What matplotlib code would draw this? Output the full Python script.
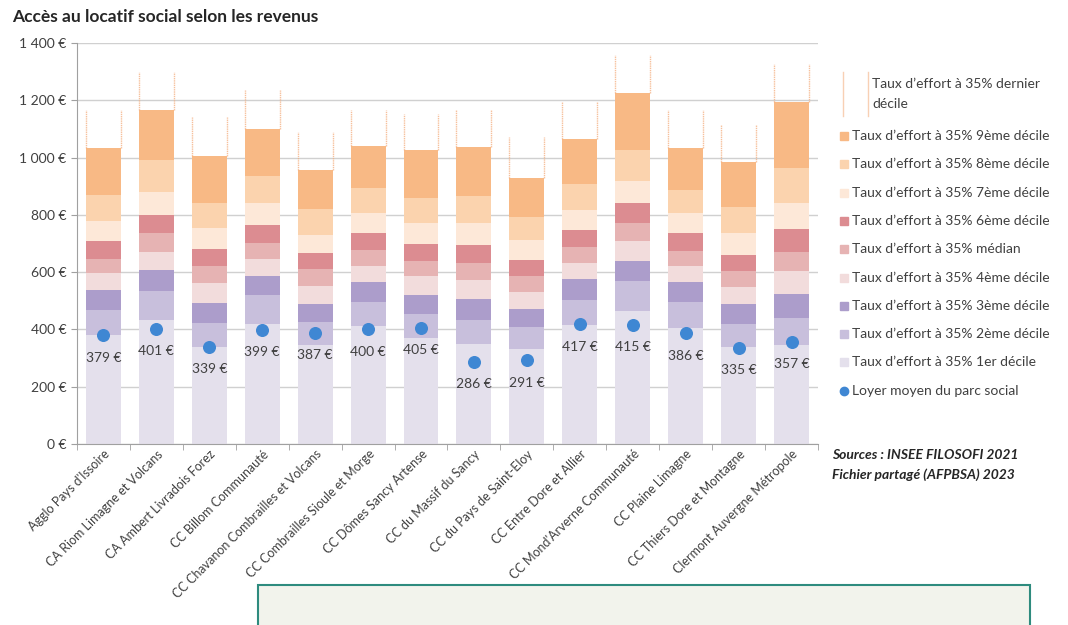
## Accès au locatif social selon les revenus - stacked deciles + loyer moyen

import numpy as np
import matplotlib
matplotlib.use("Agg")
import matplotlib.pyplot as plt
from matplotlib.patches import Rectangle
from matplotlib.lines import Line2D
from matplotlib.ticker import FuncFormatter, MultipleLocator

plt.rcParams['font.family'] = ['Lato', 'DejaVu Sans']

territoires = ["Agglo Pays d'Issoire", "CA Riom Limagne et Volcans", "CA Ambert Livradois Forez",
               "CC Billom Communauté", "CC Chavanon Combrailles et Volcans",
               "CC Combrailles Sioule et Morge", "CC Dômes Sancy Artense", "CC du Massif du Sancy",
               "CC du Pays de Saint-Eloy", "CC Entre Dore et Allier", "CC Mond'Arverne Communauté",
               "CC Plaine Limagne", "CC Thiers Dore et Montagne", "Clermont Auvergne Métropole"]

# loyer accessible (35% du revenu) at each decile
d1 = [380, 432, 339, 418, 345, 411, 368, 347, 330, 414, 463, 403, 339, 345]
d2 = [467, 534, 423, 519, 426, 496, 453, 432, 409, 504, 567, 495, 420, 438]
d3 = [537, 607, 492, 586, 490, 564, 519, 505, 470, 574, 639, 564, 490, 525]
d4 = [595, 670, 562, 645, 551, 622, 586, 572, 529, 630, 708, 621, 548, 603]
med = [647, 735, 620, 702, 609, 676, 639, 630, 586, 686, 772, 673, 603, 670]
d6 = [708, 799, 680, 766, 665, 737, 697, 694, 641, 746, 840, 735, 661, 752]
d7 = [778, 880, 754, 842, 729, 805, 770, 770, 711, 818, 918, 807, 737, 843]
d8 = [868, 993, 843, 936, 819, 895, 859, 865, 793, 909, 1026, 886, 828, 964]
d9 = [1035, 1168, 1005, 1101, 956, 1041, 1026, 1037, 930, 1064, 1227, 1035, 985, 1194]
dernier = [1168, 1299, 1142, 1235, 1090, 1165, 1154, 1168, 1072, 1194, 1357, 1165, 1113, 1328]
loyer = [379, 401, 339, 399, 387, 400, 405, 286, 291, 417, 415, 386, 335, 357]

noms = ["1er décile", "2ème décile", "3ème décile", "4ème décile", "médian",
        "6ème décile", "7ème décile", "8ème décile", "9ème décile"]
couleurs = ["#E4E0EC", "#C8BFDC", "#AC9DCB", "#F2DCDC", "#E6B3B3",
            "#DC8C91", "#FDE8D8", "#FBD3AE", "#F8B985"]
orange = "#F4B183"
bleu = "#3F87D3"

fig = plt.figure(figsize=(10.68, 6.25), dpi=100)
ax = fig.add_axes([0.072, 0.290, 0.694, 0.641])

x = np.arange(len(territoires))
w = 0.66
seuils = [d1, d2, d3, d4, med, d6, d7, d8, d9]
bas = np.zeros(len(x))
for vals, col in zip(seuils, couleurs):
    vals = np.array(vals, dtype=float)
    ax.bar(x, vals - bas, w, bottom=bas, color=col, zorder=2)
    bas = vals

# dernier décile : two thin dotted verticals from the 9th decile up
for xi, lo, hi in zip(x, d9, dernier):
    for dx in (-w / 2, w / 2):
        ax.plot([xi + dx, xi + dx], [lo, hi], color=orange, lw=1,
                linestyle=(0, (1, 0.6)), alpha=0.8, zorder=2)

ax.scatter(x, loyer, s=70, color=bleu, zorder=4)
for xi, v in zip(x, loyer):
    ax.annotate("%d €" % v, (xi, v), xytext=(0, -16), textcoords="offset points",
                ha="center", va="center", fontsize=10, color="#404040", zorder=5)

ax.set_xlim(-0.5, len(x) - 0.5)
ax.set_ylim(0, 1400)
ax.yaxis.set_major_locator(MultipleLocator(200))
ax.yaxis.set_major_formatter(FuncFormatter(lambda v, p: ("%d €" % v) if v < 1000
                                           else "%d %03d €" % (v // 1000, v % 1000)))
ax.grid(axis="y", color="#D0D0D0", lw=1, zorder=0)
ax.tick_params(axis="y", length=4, color="#A0A0A0", labelsize=10, labelcolor="#404040")

ax.set_xticks(x)
ax.set_xticklabels(territoires, rotation=45, ha="right", rotation_mode="anchor",
                   fontsize=9, color="#404040")
ax.set_xticks(np.arange(-0.5, len(x)), minor=True)
ax.tick_params(axis="x", which="major", length=0, pad=3)
ax.tick_params(axis="x", which="minor", length=4, color="#A0A0A0")

for s in ["top", "right"]:
    ax.spines[s].set_visible(False)
for s in ["left", "bottom"]:
    ax.spines[s].set_color("#A0A0A0")

fig.text(0.011, 0.972, "Accès au locatif social selon les revenus", fontsize=12.5,
         fontweight="bold", color="#262626", va="center")

# legend, drawn by hand on the right
W, H = 1068.0, 625.0
fig.add_artist(Line2D([843 / W, 843 / W], [1 - 72 / H, 1 - 116 / H], color=orange, lw=1,
                      alpha=0.6))
fig.add_artist(Line2D([868 / W, 868 / W], [1 - 72 / H, 1 - 116 / H], color=orange, lw=1,
                      alpha=0.6))
fig.text(872 / W, 1 - 84 / H, "Taux d\u2019effort à 35% dernier", fontsize=10,
         color="#404040", va="center")
fig.text(872 / W, 1 - 104 / H, "décile", fontsize=10, color="#404040", va="center")

ypos = 136
for nom, col in list(zip(noms, couleurs))[::-1]:
    fig.add_artist(Rectangle((840 / W, 1 - (ypos + 4) / H), 8 / W, 8 / H,
                             color=col, transform=fig.transFigure))
    fig.text(852 / W, 1 - ypos / H, "Taux d\u2019effort à 35% " + nom, fontsize=10,
             color="#404040", va="center")
    ypos += 28.3
fig.add_artist(Line2D([844 / W], [1 - ypos / H], marker="o", markersize=6, color=bleu,
                      lw=0))
fig.text(852 / W, 1 - ypos / H, "Loyer moyen du parc social", fontsize=10,
         color="#404040", va="center")

fig.text(832 / W, 1 - 455 / H, "Sources : INSEE FILOSOFI 2021", fontsize=10,
         fontweight="bold", style="italic", color="#262626", va="center")
fig.text(832 / W, 1 - 475 / H, "Fichier partagé (AFPBSA) 2023", fontsize=10,
         fontweight="bold", style="italic", color="#262626", va="center")

# framed box cut off at the bottom
fig.add_artist(Rectangle((258 / W, -0.05), (1030 - 258) / W, 0.05 + (625 - 585) / H,
                         facecolor="#F2F3EC", edgecolor="#2E8B7E", lw=1.5,
                         transform=fig.transFigure, zorder=-1))

fig.savefig("out.png", dpi=100)
